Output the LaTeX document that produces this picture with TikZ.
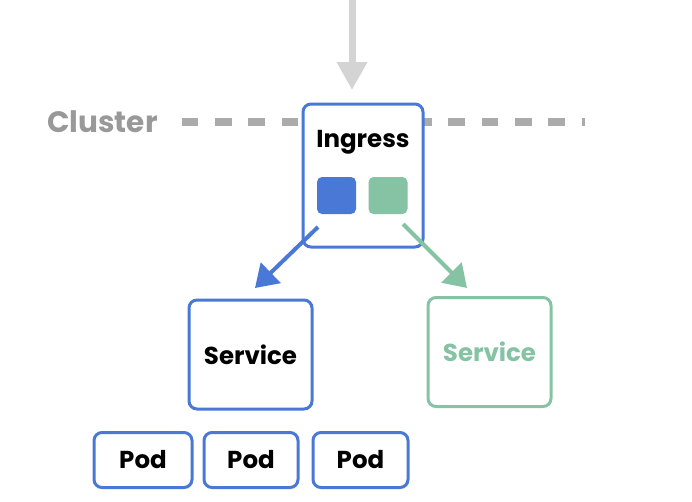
\documentclass[tikz,border=0pt]{standalone}
\usepackage{fontspec}
\setmainfont{Poppins}
\usetikzlibrary{arrows.meta}
\definecolor{kblue}{HTML}{4A78D6}
\definecolor{kgreen}{HTML}{86C3A4}
\definecolor{karrow}{HTML}{D4D4D4}
\definecolor{kdash}{HTML}{ABABAB}
\definecolor{ktext}{HTML}{999999}
\tikzset{
  box/.style={draw=kblue, line width=3pt, rounded corners=8pt, fill=white, inner sep=0pt, font=\bfseries\fontsize{24.5}{28}\selectfont},
  gbox/.style={box, draw=kgreen, text=kgreen},
  chip/.style={rounded corners=5pt, minimum width=39pt, minimum height=37pt, inner sep=0pt},
  link/.style={line width=4pt, -{Triangle[length=22pt,width=28pt]}}
}
\begin{document}
\begin{tikzpicture}[x=1pt,y=-1pt]
\useasboundingbox (0,0) rectangle (692,501);
\node[font=\bfseries\fontsize{29.5}{33}\selectfont, text=ktext, anchor=center] (cl) at (102.5,122) {Cluster};
\coordinate (dl) at (181.7,122);
\coordinate (dr) at (585,122);
\draw[kdash, line width=8pt, dash pattern=on 16.7pt off 16.63pt] (dl) -- (dr);
\coordinate (top) at (352,0);
\coordinate (atip) at (352,90);
\node[box, minimum width=120pt, minimum height=143pt] (ing) at (363,175.5) {};
\node[font=\bfseries\fontsize{24.5}{28}\selectfont] (ingt) at (363,142.5) {Ingress};
\node[chip, fill=kblue] (cb) at (336.5,195.5) {};
\node[chip, fill=kgreen] (cg) at (388,195.5) {};
\draw[karrow, line width=7pt, -{Triangle[length=28pt,width=29pt]}] (top) -- (atip);
\node[box, minimum width=123pt, minimum height=109pt] (s1) at (250.5,354.5) {Service};
\node[gbox, minimum width=123pt, minimum height=109pt] (s2) at (489.5,352) {Service};
\coordinate (b0) at (318,227);
\coordinate (g0) at (403,224);
\coordinate (b1) at (255,288);
\coordinate (g1) at (467,288);
\draw[link, kblue] (b0) -- (b1);
\draw[link, kgreen] (g0) -- (g1);
\node[box, minimum width=98pt, minimum height=55pt] (p1) at (143,460) {Pod};
\node[box, minimum width=94pt, minimum height=55pt] (p2) at (251,460) {Pod};
\node[box, minimum width=95pt, minimum height=55pt] (p3) at (360.5,460) {Pod};
\end{tikzpicture}
\end{document}
